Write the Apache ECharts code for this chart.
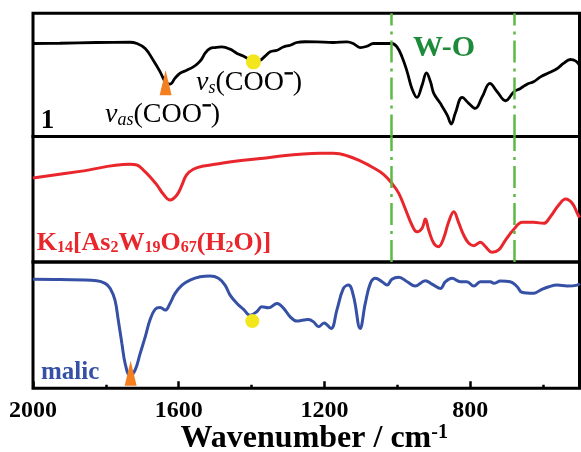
<!DOCTYPE html>
<html><head><meta charset="utf-8">
<script src="https://cdn.jsdelivr.net/npm/echarts@6/dist/echarts.min.js"></script>
<style>html,body{margin:0;padding:0;background:#fff}#c{width:581px;height:452px}</style>
</head><body><div id="c"></div>
<script>
// ---- data (wavenumber in cm-1, transmittance in arbitrary % units per panel) ----
const wn1=[2000,1926,1825,1734,1715,1692,1670,1651,1637,1624,1610,1596,1578,1560,1547,1537,1527,1514,1500,1482,1459,1440,1418,1396,1376,1363,1349,1330,1313,1294,1276,1253,1221,1176,1138,1121,1102,1083,1066,1038,1015,1001,987,973,960,946,932,920,909,900,882,863,852,841,822,804,786,767,746,726,703,680,662,644,626,607,584,561,544,525,511,500];
const t1=[75.5,75.7,76.3,76.5,75.5,71.4,61.9,52.5,44.4,42.5,47.4,51.4,53.8,56.5,59.5,62.8,67.9,71.4,72.2,72.7,70.9,67.4,64.6,60.6,61.9,65.2,68.7,70.0,72.7,74.1,76.3,76.9,76.8,76.3,76.8,75.5,72.2,73.3,75.5,75.5,75.5,72.7,64.6,52.5,39.0,31.7,41.7,51.7,44.4,35.0,26.9,17.4,10.1,18.8,31.7,26.9,22.8,32.2,43.1,36.3,29.0,36.3,39.0,42.5,44.4,48.4,51.7,55.2,59.3,62.5,61.4,57.9];
const wn2=[2000,1871,1734,1715,1697,1679,1660,1642,1624,1605,1591,1579,1560,1532,1495,1440,1367,1313,1258,1212,1176,1138,1102,1066,1038,1015,996,978,960,946,932,923,914,900,887,873,859,845,832,818,804,790,772,758,740,722,703,680,657,626,598,580,557,538,520,506,500];
const t2=[67.0,72.2,77.8,77.3,73.3,68.0,61.4,53.9,49.4,53.4,61.4,69.3,73.9,76.5,78.1,80.5,82.6,84.7,86.1,86.6,86.6,84.7,80.5,75.1,69.9,62.7,54.7,42.2,29.5,24.1,26.9,34.3,25.5,14.9,12.2,18.9,32.1,40.1,31.6,21.5,14.9,13.0,15.7,12.2,7.7,9.6,17.5,26.1,31.6,31.6,30.8,36.1,45.4,50.2,46.8,38.8,35.3];
const wn3=[2000,1926,1825,1802,1788,1775,1766,1756,1747,1734,1720,1706,1692,1679,1665,1651,1637,1624,1610,1591,1569,1541,1514,1491,1473,1459,1440,1422,1404,1386,1372,1354,1330,1312,1294,1276,1257,1244,1230,1216,1201,1182,1166,1148,1134,1120,1102,1088,1074,1060,1042,1028,1015,996,973,951,923,905,882,868,850,827,809,790,772,745,735,717,690,671,658,626,607,584,561,534,506,500];
const t3=[86.3,86.1,85.2,83.1,79.1,69.8,54.0,35.5,19.6,10.3,14.3,27.5,40.7,54.0,62.5,64.0,61.9,67.2,75.2,81.7,85.7,88.3,88.9,87.1,81.7,73.8,67.2,62.5,57.9,60.6,64.5,63.7,67.2,63.3,56.6,53.2,54.0,54.5,52.6,48.7,51.8,47.4,61.9,79.1,81.7,72.5,47.4,67.2,83.1,87.1,84.4,81.7,86.3,87.9,84.4,81.0,85.2,82.5,79.1,84.4,87.1,84.4,84.4,81.0,84.4,84.4,83.1,84.9,84.4,80.4,76.0,75.2,77.8,80.4,81.7,81.0,81.7,83.1];
const vasMarks=[[1636,43.7,0],[1732,11.9,2]];   // [wavenumber, value, panel]
const vsMarks=[[1395,60.6,0],[1398,53.2,2]];
const woLines=[1018,680];
const majorTicks=[800,1200,1600,2000];
const minorTicks=[600,1000,1400,1800];
const labels={p1:'1',p3:'malic',wo:'W-O'};

const serif='"Liberation Serif","Times New Roman",serif';
const chart=echarts.init(document.getElementById('c'),null,{renderer:'canvas'});
const pairs=(w,t)=>w.map((x,i)=>[x,t[i]]);
const gridBase={left:33,width:546.5,show:true,borderColor:'#000',borderWidth:3,backgroundColor:'transparent',
  containLabel:false,outerBoundsMode:'none'};
const xBase={type:'value',min:500,max:2000,inverse:true,splitLine:{show:false}};
const wlLine={silent:true,symbol:'none',label:{show:false},animation:false,
  lineStyle:{color:'#5cb946',width:2.5,type:[22,6,3,6]},data:woLines.map(v=>({xAxis:v}))};
const mk=(panel,arr,symbol,size,color)=>({type:'scatter',xAxisIndex:panel,yAxisIndex:panel,symbol:symbol,symbolSize:size,z:5,
  itemStyle:{color:color,opacity:1},emphasis:{disabled:true},data:arr.filter(m=>m[2]===panel).map(m=>[m[0],m[1]])});
const coo=(sub)=>({text:'{v|v}{s|'+sub+'}{n|(COO}{m|⁻}{n|)}',textAlign:'left',textVerticalAlign:'middle',
  rich:{v:{fontFamily:serif,fontStyle:'italic',fontSize:28,fill:'#000'},
        s:{fontFamily:serif,fontStyle:'italic',fontSize:18,fill:'#000',verticalAlign:'bottom'},
        n:{fontFamily:serif,fontSize:28,fill:'#000'},
        m:{fontFamily:serif,fontSize:28,fontWeight:'bold',fill:'#000'}}});

chart.setOption({
  animation:false,
  grid:[
    Object.assign({top:13.3,height:123.2},gridBase),
    Object.assign({top:136.5,height:125.5},gridBase),
    Object.assign({top:262,height:126.3},gridBase)
  ],
  xAxis:[
    Object.assign({gridIndex:0,show:false},xBase),
    Object.assign({gridIndex:1,show:false},xBase),
    Object.assign({gridIndex:2,position:'bottom',axisLine:{show:false},
      axisTick:{inside:true,length:7,lineStyle:{color:'#000',width:2.5},customValues:majorTicks},
      axisLabel:{customValues:majorTicks,formatter:v=>String(v),fontFamily:serif,fontWeight:'bold',fontSize:24,color:'#000',margin:10},
      name:'{a|Wavenumber / cm}{b|-1}',nameLocation:'middle',nameGap:34,
      nameTextStyle:{padding:[0,0,0,16],rich:{
        a:{fontFamily:serif,fontWeight:'bold',fontSize:32,color:'#000'},
        b:{fontFamily:serif,fontWeight:'bold',fontSize:20,color:'#000',verticalAlign:'top'}}}
    },xBase),
    Object.assign({gridIndex:2,position:'bottom',axisLine:{show:false},
      axisTick:{inside:true,length:3.5,lineStyle:{color:'#000',width:2.5},customValues:minorTicks},
      axisLabel:{show:false}},xBase)
  ],
  yAxis:[0,1,2].map(i=>({type:'value',gridIndex:i,min:0,max:100,show:false})),
  series:[
    {type:'line',xAxisIndex:0,yAxisIndex:0,data:pairs(wn1,t1),showSymbol:false,smooth:0.4,
      lineStyle:{color:'#000',width:2.8},markLine:wlLine},
    {type:'line',xAxisIndex:1,yAxisIndex:1,data:pairs(wn2,t2),showSymbol:false,smooth:0.4,
      lineStyle:{color:'#e8262b',width:3},markLine:wlLine},
    {type:'line',xAxisIndex:2,yAxisIndex:2,data:pairs(wn3,t3),showSymbol:false,smooth:0.4,
      lineStyle:{color:'#3550a5',width:3}},
    mk(0,vasMarks,'triangle',[12,25],'#f47f20'),
    mk(2,vasMarks,'triangle',[12,25],'#f47f20'),
    mk(0,vsMarks,'circle',15,'#f3e61c'),
    mk(2,vsMarks,'circle',14,'#f3e61c')
  ],
  graphic:[
    {type:'text',x:444,y:48.5,style:{text:labels.wo,font:'bold 30px '+serif,fill:'#1e8b3a',textAlign:'center',textVerticalAlign:'middle'}},
    {type:'text',x:47.5,y:121.5,style:{text:labels.p1,font:'bold 27px '+serif,fill:'#000',textAlign:'center',textVerticalAlign:'middle'}},
    {type:'text',x:105,y:115,style:coo('as')},
    {type:'text',x:196,y:83,style:coo('s')},
    {type:'text',x:36.7,y:243,style:{text:'{b|K}{s|14}{b|[As}{s|2}{b|W}{s|19}{b|O}{s|67}{b|(H}{s|2}{b|O)]}',textAlign:'left',textVerticalAlign:'middle',
      rich:{b:{fontFamily:serif,fontWeight:'bold',fontSize:26,fill:'#e8262b'},
            s:{fontFamily:serif,fontWeight:'bold',fontSize:16,fill:'#e8262b',verticalAlign:'bottom'}}}},
    {type:'text',x:41,y:373,style:{text:labels.p3,font:'bold 25px '+serif,fill:'#3550a5',textAlign:'left',textVerticalAlign:'middle'}}
  ]
});
</script></body></html>
